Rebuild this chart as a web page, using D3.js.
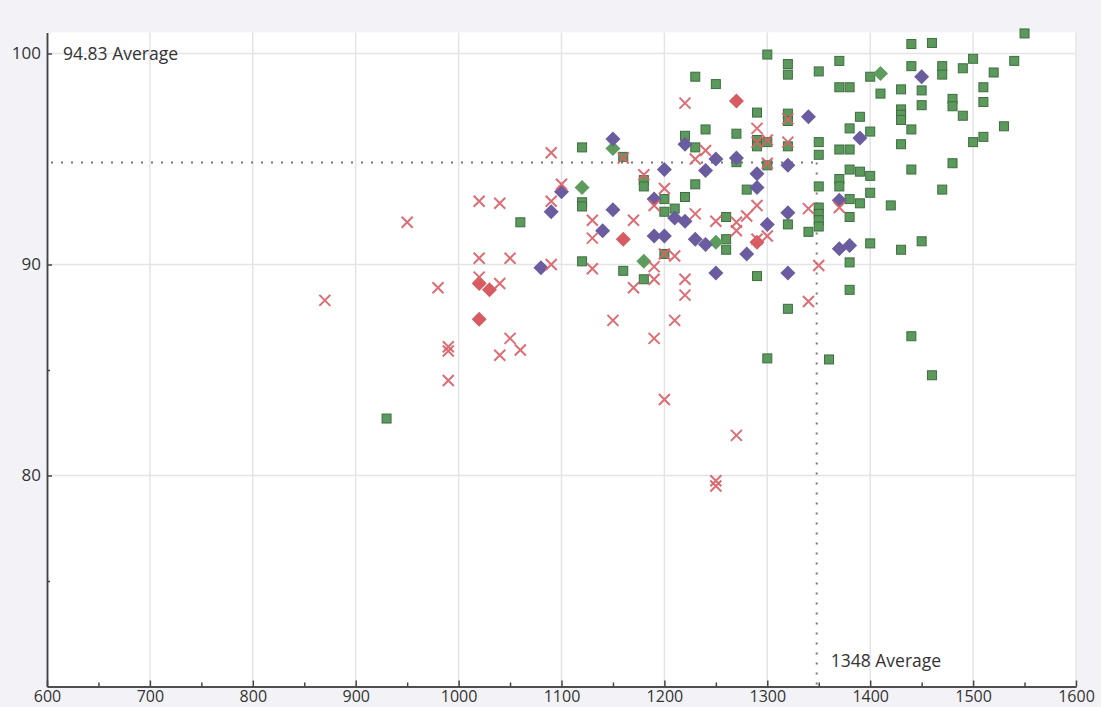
<!DOCTYPE html>
<html><head><meta charset="utf-8">
<script src="https://cdnjs.cloudflare.com/ajax/libs/d3/7.8.5/d3.min.js"></script>
<style>
html,body{margin:0;padding:0;background:#f3f3f7;}
svg{display:block;font-family:"Open Sans","Noto Sans",sans-serif;}
</style></head>
<body>
<svg id="chart" width="1101" height="707"></svg>
<script>
// ---- data ----
const xTicks = [600,700,800,900,1000,1100,1200,1300,1400,1500,1600];
const xMinor = [650,750,850,950,1050,1150,1250,1350,1450,1550];
const yTicks = [80,90,100];
const yMinor = [75,85];
const avgX = 1348;
const avgY = 94.83;
const avgXLabel = "1348 Average";
const avgYLabel = "94.83 Average";

const redCross = [
 [870,88.3],[950,92.0],[980,88.9],[990,86.1],[990,85.9],[990,84.5],
 [1020,93.0],[1020,90.3],[1020,89.4],[1040,92.9],[1040,89.1],[1040,85.7],[1050,90.3],[1050,86.5],[1060,85.95],
 [1090,95.3],[1090,93.0],[1090,90.0],[1100,93.8],
 [1130,92.1],[1130,91.25],[1130,89.8],[1150,87.35],[1160,95.05],[1170,92.1],[1170,88.9],[1180,94.25],
 [1190,92.8],[1190,89.9],[1190,89.3],[1190,86.5],[1200,93.6],[1200,90.5],[1200,83.6],[1210,90.4],[1210,87.35],
 [1220,97.65],[1220,89.3],[1220,88.55],[1230,95.0],[1230,92.4],[1240,95.4],[1250,92.05],[1250,79.75],[1250,79.5],
 [1270,92.0],[1270,91.6],[1270,81.9],[1280,92.3],[1290,96.45],[1290,95.8],[1290,92.8],[1290,91.2],
 [1300,95.9],[1300,94.8],[1300,91.35],[1320,96.9],[1320,95.8],[1340,92.65],[1340,88.25],[1350,89.95],[1370,92.7]
];
const redDiamond = [[1020,89.1],[1030,88.8],[1020,87.4],[1160,91.2],[1270,97.75],[1290,91.05]];
const purpleDiamond = [
 [1080,89.85],[1090,92.5],[1100,93.45],[1140,91.6],[1150,95.95],[1150,92.6],[1190,93.1],[1190,91.35],[1200,94.5],[1200,91.35],
 [1210,92.2],[1220,95.7],[1220,92.05],[1230,91.2],[1240,94.45],[1240,90.95],[1250,95.0],[1250,89.6],[1270,95.05],[1280,90.5],
 [1290,94.3],[1290,93.65],[1300,91.9],[1320,94.7],[1320,92.45],[1320,89.6],[1340,97.0],[1370,93.05],[1370,90.75],[1380,90.9],
 [1390,96.0],[1450,98.9]
];
const greenSquare = [
 [930,82.7],[1060,92.0],[1120,95.55],[1120,92.95],[1120,92.75],[1120,90.15],[1160,95.1],[1160,89.7],[1180,94.0],[1180,93.7],[1180,89.3],
 [1200,93.1],[1200,92.5],[1200,90.5],[1210,92.65],[1220,96.1],[1220,93.2],[1230,98.9],[1230,95.55],[1230,93.8],[1240,96.4],
 [1250,98.55],[1260,92.25],[1260,91.2],[1260,90.7],[1270,96.2],[1270,94.85],[1280,93.55],[1290,97.2],[1290,95.9],[1290,95.6],[1290,89.45],
 [1300,99.95],[1300,95.8],[1300,94.7],[1300,85.55],[1320,99.5],[1320,99.0],[1320,97.15],[1320,96.8],[1320,95.6],[1320,91.9],[1320,87.9],
 [1340,91.55],[1350,99.15],[1350,95.8],[1350,95.2],[1350,93.7],[1350,92.7],[1350,92.4],[1350,92.1],[1350,91.8],[1360,85.5],
 [1370,99.65],[1370,98.4],[1370,95.45],[1370,94.05],[1370,93.7],[1380,98.4],[1380,96.45],[1380,95.45],[1380,94.5],[1380,93.1],[1380,92.25],[1380,90.1],[1380,88.8],
 [1390,97.0],[1390,94.4],[1390,92.9],[1400,98.9],[1400,96.3],[1400,94.2],[1400,93.4],[1400,91.0],[1410,98.1],[1420,92.8],
 [1430,98.3],[1430,97.35],[1430,97.1],[1430,96.85],[1430,95.7],[1430,90.7],[1440,100.45],[1440,99.4],[1440,96.4],[1440,94.5],[1440,86.6],
 [1450,98.25],[1450,97.55],[1450,91.1],[1460,100.5],[1460,84.75],[1470,99.4],[1470,99.0],[1470,93.55],[1480,97.85],[1480,97.5],[1480,94.8],
 [1490,99.3],[1490,97.05],[1500,99.75],[1500,95.8],[1510,98.4],[1510,97.7],[1510,96.05],[1520,99.1],[1530,96.55],[1540,99.65],[1550,100.95]
];
const greenDiamond = [[1120,93.65],[1150,95.5],[1180,90.15],[1250,91.05],[1410,99.05]];

// ---- layout ----
const svg = d3.select("#chart");
const plotL = 47, plotR = 1076, plotT = 32.4, plotB = 686.5;
const x = d3.scaleLinear().domain([600,1600]).range([plotL,plotR]);
const y = d3.scaleLinear().domain([70,101]).range([plotB,plotT]);
const FONT = "'Open Sans','Noto Sans',sans-serif";

svg.append("rect").attr("x",plotL).attr("y",plotT).attr("width",plotR-plotL+1).attr("height",plotB-plotT).attr("fill","#fff");

// grid
const grid = svg.append("g").attr("stroke","#e4e4e8").attr("stroke-width",1.5);
grid.selectAll("line.v").data(xTicks.slice(1)).join("line")
  .attr("x1",d=>x(d)).attr("x2",d=>x(d)).attr("y1",plotT).attr("y2",plotB);
grid.selectAll("line.h").data(yTicks).join("line")
  .attr("x1",plotL).attr("x2",plotR).attr("y1",d=>y(d)).attr("y2",d=>y(d));

// average lines
const avg = svg.append("g").attr("stroke","#777").attr("stroke-width",2).attr("stroke-dasharray","2 8").attr("fill","none");
avg.append("line").attr("x1",plotL+4).attr("x2",x(avgX)).attr("y1",y(avgY)).attr("y2",y(avgY));
avg.append("line").attr("x1",x(avgX)).attr("x2",x(avgX)).attr("y1",y(avgY)).attr("y2",plotB);
svg.append("text").attr("x",plotL+16).attr("y",y(100)).attr("dy","0.35em").attr("font-size",17.5).attr("fill","#333").attr("font-family",FONT).text(avgYLabel);
svg.append("text").attr("x",x(avgX)+14).attr("y",plotB-20).attr("font-size",17.5).attr("fill","#333").attr("font-family",FONT).text(avgXLabel);

// markers
const diamondPath = "M0,-7.5L7.5,0L0,7.5L-7.5,0Z";
const gMarks = svg.append("g");
gMarks.selectAll("rect.gs").data(greenSquare).join("rect")
  .attr("x",d=>x(d[0])-4.5).attr("y",d=>y(d[1])-4.5).attr("width",9).attr("height",9)
  .attr("fill","#5b9a5c").attr("stroke","#3e6d40").attr("stroke-width",1);
gMarks.selectAll("path.gd").data(greenDiamond).join("path")
  .attr("d",diamondPath).attr("transform",d=>`translate(${x(d[0])},${y(d[1])})`)
  .attr("fill","#5e9c5e");
gMarks.selectAll("path.pd").data(purpleDiamond).join("path")
  .attr("d",diamondPath).attr("transform",d=>`translate(${x(d[0])},${y(d[1])})`)
  .attr("fill","#6b5ca0");
gMarks.selectAll("path.rd").data(redDiamond).join("path")
  .attr("d",diamondPath).attr("transform",d=>`translate(${x(d[0])},${y(d[1])})`)
  .attr("fill","#d65c62");
gMarks.selectAll("path.rx").data(redCross).join("path")
  .attr("d","M-5.5,-5.5L5.5,5.5M-5.5,5.5L5.5,-5.5").attr("transform",d=>`translate(${x(d[0])},${y(d[1])})`)
  .attr("stroke","#da6169").attr("stroke-width",2).attr("fill","none").attr("opacity",0.92);

// axes
function styleAxis(g, fs){
  g.select(".domain").attr("stroke","#444").attr("stroke-width",1.5);
  g.selectAll(".tick line").attr("stroke","#444").attr("stroke-width",1.5);
  g.selectAll(".tick text").attr("font-size",fs).attr("fill","#333").attr("font-family",FONT);
}
const xAxisMinor = svg.append("g").attr("transform",`translate(0,${plotB})`)
  .call(d3.axisBottom(x).tickValues(xMinor).tickFormat("").tickSizeInner(-4).tickSizeOuter(0));
styleAxis(xAxisMinor, 16);
const xAxis = svg.append("g").attr("transform",`translate(0,${plotB})`)
  .call(d3.axisBottom(x).tickValues(xTicks).tickFormat(d3.format("d")).tickSizeInner(-6).tickSizeOuter(0).tickPadding(4));
styleAxis(xAxis, 16);
const yAxisMinor = svg.append("g").attr("transform",`translate(${plotL},0)`)
  .call(d3.axisLeft(y).tickValues(yMinor).tickFormat("").tickSizeInner(-3).tickSizeOuter(0));
styleAxis(yAxisMinor, 17);
const yAxis = svg.append("g").attr("transform",`translate(${plotL},0)`)
  .call(d3.axisLeft(y).tickValues(yTicks).tickFormat(d3.format("d")).tickSizeInner(-5).tickSizeOuter(0).tickPadding(6));
styleAxis(yAxis, 17);
</script>
</body></html>
